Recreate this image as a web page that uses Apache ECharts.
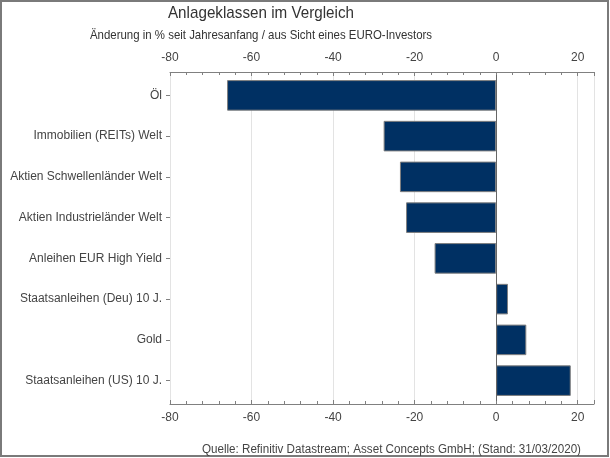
<!DOCTYPE html>
<html><head><meta charset="utf-8">
<script src="https://cdn.jsdelivr.net/npm/echarts@6/dist/echarts.min.js"></script>
<style>html,body{margin:0;padding:0;background:#fff}#c{width:610px;height:458px}</style>
</head><body><div id="c"></div>
<script>
var categories = ["Öl","Immobilien (REITs) Welt","Aktien Schwellenländer Welt","Aktien Industrieländer Welt","Anleihen EUR High Yield","Staatsanleihen (Deu) 10 J.","Gold","Staatsanleihen (US) 10 J."];
var values = [-66.0,-27.6,-23.6,-22.1,-15.1,2.9,7.4,18.3];
var xTicks = [-80,-60,-40,-20,0,20];
var titleText = "Anlageklassen im Vergleich";
var subtitleText = "Änderung in % seit Jahresanfang / aus Sicht eines EURO-Investors";
var sourceText = "Quelle: Refinitiv Datastream; Asset Concepts GmbH; (Stand: 31/03/2020)";

var font = "'Liberation Sans', Arial, sans-serif";
var chart = echarts.init(document.getElementById('c'), null, {renderer:'canvas'});
function xAx(pos){
  return {
    type:'value', position:pos, min:-80, max:24, interval:20, offset:3,
    axisLine:{show:true,onZero:false,lineStyle:{color:'#808080',width:1}},
    axisTick:{show:true,inside:true,length:4,lineStyle:{color:'#808080'}},
    minorTick:{show:true,splitNumber:5,length:3,lineStyle:{color:'#808080'}},
    splitLine:{show:pos==='bottom',lineStyle:{color:'#e3e3e3',width:1}},
    axisLabel:{show:true,color:'#444',fontFamily:font,fontSize:12,margin:8,
      formatter:function(v){return xTicks.indexOf(v)>=0?String(v):'';}}
  };
}
chart.setOption({
  animation:false,
  graphic:[
    {type:'rect',shape:{x:1,y:1,width:607,height:455},style:{fill:'none',stroke:'#7a7a7a',lineWidth:2}},
    {type:'text',x:261,y:13,scaleX:0.895,style:{text:titleText,font:'17px '+font,fill:'#333',textAlign:'center',textVerticalAlign:'middle'}},
    {type:'text',x:261,y:35,scaleX:0.88,style:{text:subtitleText,font:'13px '+font,fill:'#333',textAlign:'center',textVerticalAlign:'middle'}},
    {type:'text',x:581,y:450,scaleX:0.97,style:{text:sourceText,font:'12px '+font,fill:'#444',textAlign:'right',textVerticalAlign:'middle'}},
    {type:'line',shape:{x1:170.5,y1:72,x2:170.5,y2:404},style:{stroke:'#999',lineWidth:1}}
  ],
  grid:{left:170,right:16,top:75,bottom:57,containLabel:false},
  xAxis:[xAx('top'),xAx('bottom')],
  yAxis:{
    type:'category', data:categories, inverse:true,
    axisLine:{show:false,onZero:false},
    axisTick:{show:true,alignWithLabel:true,length:4,lineStyle:{color:'#808080'}},
    axisLabel:{color:'#444',fontFamily:font,fontSize:12,margin:8},
    splitLine:{show:false}
  },
  series:[{
    type:'bar', data:values, xAxisIndex:1, barWidth:'75%',
    itemStyle:{color:'#003063',borderColor:'#7f7f7f',borderWidth:1},
    markLine:{silent:true,symbol:'none',label:{show:false},
      lineStyle:{color:'#666',width:1,type:'solid'},data:[{xAxis:0}]}
  }]
});
</script></body></html>
